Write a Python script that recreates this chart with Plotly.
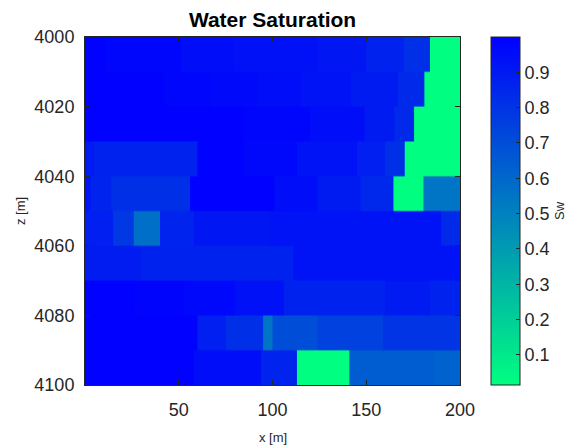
import plotly.graph_objects as go

# Layer boundaries (depth, m)
layer_edges = [4000, 4010, 4020, 4030, 4040, 4050, 4060, 4070, 4080, 4090, 4100]

# Per-layer cell edges along x (m) and water saturation in each cell
x_4000 = [0, 11, 51, 79, 124, 150, 170, 184, 200]
sw_4000 = [0.995, 0.975, 0.95, 0.94, 0.91, 0.87, 0.82, 0.02]

x_4010 = [0, 42, 67, 92, 115, 142, 167, 181, 200]
sw_4010 = [0.995, 0.98, 0.965, 0.95, 0.93, 0.9, 0.84, 0.02]

x_4020 = [0, 85, 120, 149, 165, 175.5, 200]
sw_4020 = [0.995, 0.975, 0.95, 0.9, 0.84, 0.02]

x_4030 = [0, 5, 60, 85, 113, 145, 160, 170.5, 200]
sw_4030 = [0.9, 0.87, 0.995, 0.97, 0.93, 0.88, 0.82, 0.02]

x_4040 = [0, 3, 14, 56, 101, 124, 147, 164.5, 180.5, 200]
sw_4040 = [0.92, 0.86, 0.82, 0.995, 0.95, 0.9, 0.85, 0.02, 0.55]

x_4050 = [0, 15, 26, 40, 58, 99, 190, 200]
sw_4050 = [0.88, 0.78, 0.57, 0.86, 0.91, 0.93, 0.84]

x_4060 = [0, 30, 111, 200]
sw_4060 = [0.89, 0.87, 0.93]

x_4070 = [0, 26, 53, 80, 106, 160, 184, 200]
sw_4070 = [0.995, 0.985, 0.97, 0.94, 0.87, 0.9, 0.87]

x_4080 = [0, 60, 75, 95, 100, 124, 159, 200]
sw_4080 = [0.995, 0.88, 0.82, 0.55, 0.7, 0.75, 0.8]

x_4090 = [0, 58, 94, 113, 141, 186, 200]
sw_4090 = [0.995, 0.95, 0.86, 0.02, 0.64, 0.62]

layer_x = [x_4000, x_4010, x_4020, x_4030, x_4040,
           x_4050, x_4060, x_4070, x_4080, x_4090]
layer_sw = [sw_4000, sw_4010, sw_4020, sw_4030, sw_4040,
            sw_4050, sw_4060, sw_4070, sw_4080, sw_4090]

cb_ticks = [0.1, 0.2, 0.3, 0.4, 0.5, 0.6, 0.7, 0.8, 0.9]
x_ticks = [50, 100, 150, 200]
z_ticks = [4000, 4020, 4040, 4060, 4080, 4100]

ink = "#262626"
font_family = "Liberation Sans, Arial, sans-serif"

# Sample the layered model on a fine regular grid (0.5 m x 0.5 m) so the
# heatmap renders as one seamless image with crisp layer boundaries
dx, dz = 0.5, 0.5
n_cols = int(round(200 / dx))
n_rows = int(round((layer_edges[-1] - layer_edges[0]) / dz))
grid_x = [dx * (j + 0.5) for j in range(n_cols)]
grid_y = [layer_edges[0] + dz * (i + 0.5) for i in range(n_rows)]


def layer_row(xe, sw):
    row = []
    for xc in grid_x:
        k = max(i for i in range(len(sw)) if xe[i] <= xc)
        row.append(sw[k])
    return row


rows_by_layer = [layer_row(xe, sw) for xe, sw in zip(layer_x, layer_sw)]
grid_z = []
for yc in grid_y:
    li = max(i for i in range(len(layer_edges) - 1) if layer_edges[i] <= yc)
    grid_z.append(rows_by_layer[li])

fig = go.Figure(go.Heatmap(
    x=grid_x, y=grid_y, z=grid_z, zsmooth="fast",
    coloraxis="coloraxis", hoverinfo="skip",
))

# plot area in pixels: x 85..460, y 37..385
plot_w, plot_h = 375, 348

fig.update_layout(
    width=581, height=448,
    margin=dict(l=85, r=121, t=37, b=63),
    paper_bgcolor="white", plot_bgcolor="white",
    font=dict(family=font_family, color=ink, size=18),
    title=dict(text="<b>Water Saturation</b>", x=(85 + 460) / 2 / 581,
               xanchor="center", y=1 - 20 / 448, yanchor="middle",
               font=dict(size=21, color="black")),
    coloraxis=dict(
        cmin=0.015, cmax=1.0,
        colorscale=[[0, "rgb(0,255,128)"], [1, "rgb(0,0,255)"]],
        colorbar=dict(
            x=(491 - 85) / plot_w, xanchor="left", xref="paper",
            y=0.5, yanchor="middle", len=1.0, lenmode="fraction",
            thickness=29, outlinewidth=1, outlinecolor=ink,
            tickvals=cb_ticks, ticks="inside", ticklen=4, tickcolor=ink,
            tickfont=dict(size=18, color=ink), ticklabelposition="outside",
            xpad=0, ypad=0,
            title=dict(text="Sw", side="right", font=dict(size=13, color=ink)),
        ),
    ),
    showlegend=False,
)

fig.update_xaxes(
    range=[0, 200], tickvals=x_ticks, ticks="inside", ticklen=5,
    tickcolor=ink, showline=True, linecolor=ink, linewidth=1, mirror="ticks",
    showgrid=False, zeroline=False, tickfont=dict(size=18, color=ink),
    ticklabelstandoff=8,
)
fig.update_yaxes(
    range=[4100, 4000], tickvals=z_ticks, ticks="inside", ticklen=5,
    tickcolor=ink, showline=True, linecolor=ink, linewidth=1, mirror="ticks",
    showgrid=False, zeroline=False, tickfont=dict(size=18, color=ink),
    ticklabelstandoff=6,
)

fig.add_annotation(text="x [m]", x=0.5, xref="paper",
                   y=-(437 - 385) / plot_h, yref="paper",
                   showarrow=False, font=dict(size=13, color=ink),
                   yanchor="middle")
fig.add_annotation(text="z [m]", x=(20 - 85) / plot_w, xref="paper",
                   y=0.5, yref="paper",
                   showarrow=False, textangle=-90,
                   font=dict(size=13, color=ink), xanchor="center")

fig.write_html("out.html")
